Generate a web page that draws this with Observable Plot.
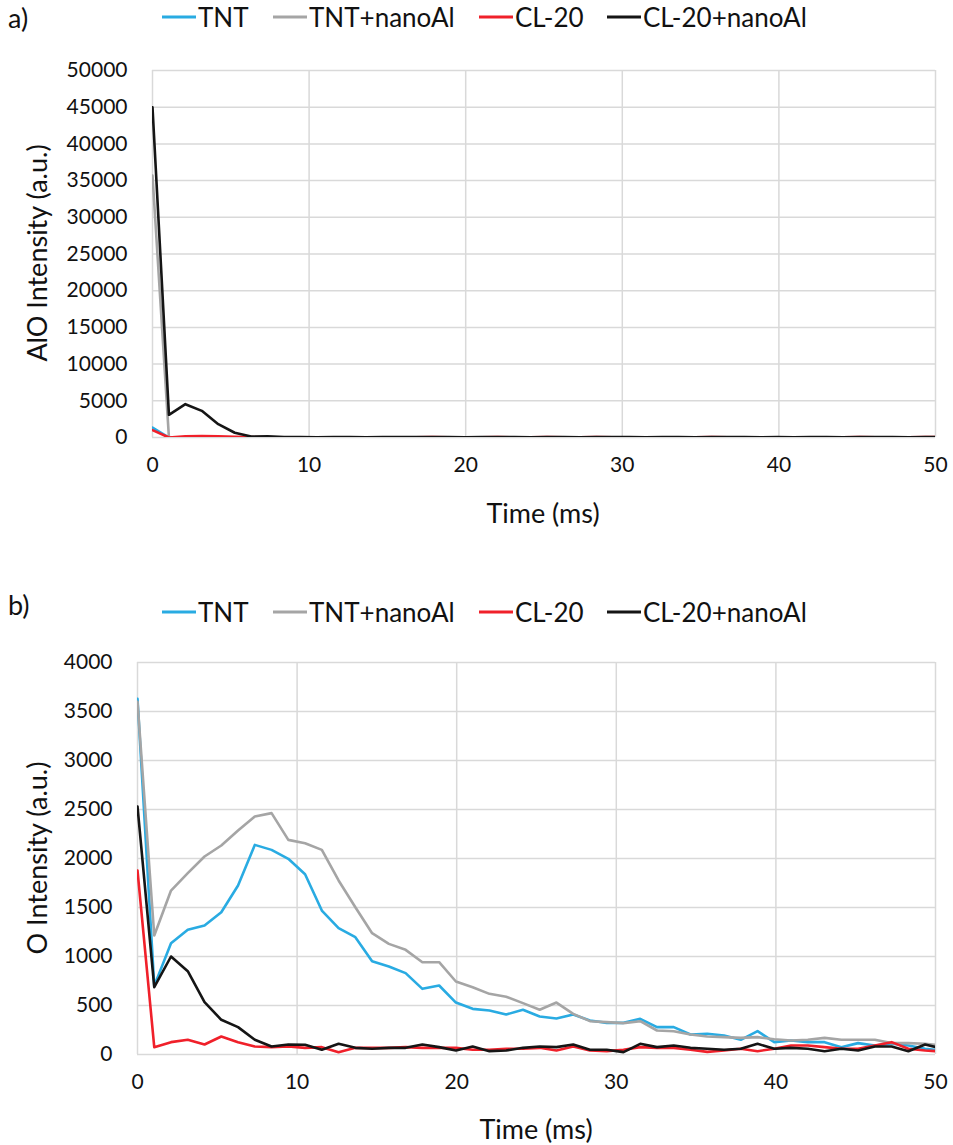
<!DOCTYPE html>
<html><head><meta charset="utf-8">
<script src="https://cdn.jsdelivr.net/npm/d3@7"></script>
<script src="https://cdn.jsdelivr.net/npm/@observablehq/plot@0.6"></script>
<style>
body{margin:0;background:#fff;}
#wrap{position:relative;width:953px;height:1145px;font-family:Lato,"Open Sans",sans-serif;color:#111;}
.tag{position:absolute;left:8px;font-size:27px;line-height:1;}
.leg{position:absolute;font-size:26px;line-height:1;display:flex;align-items:center;white-space:nowrap;}
.leg svg{display:block;margin-right:2px;}
.xt{position:absolute;font-size:27px;line-height:1;transform:translate(-50%,-50%);white-space:nowrap;}
.yt{position:absolute;font-size:27px;line-height:1;transform:translate(-50%,-50%) rotate(-90deg);white-space:nowrap;}
</style></head>
<body><div id="wrap"></div>
<script>
// ---------- data ----------
const seriesNames = ["TNT", "TNT+nanoAl", "CL-20", "CL-20+nanoAl"];
const seriesColors = ["#29ABE2", "#A5A5A5", "#F0202A", "#151515"];
const timeMs = [0,1.05,2.1,3.15,4.2,5.25,6.3,7.35,8.4,9.45,10.5,11.55,12.6,13.65,14.7,15.75,16.8,17.85,18.9,19.95,21,22.05,23.1,24.15,25.2,26.25,27.3,28.35,29.4,30.45,31.5,32.55,33.6,34.65,35.7,36.75,37.8,38.85,39.9,40.95,42,43.05,44.1,45.15,46.2,47.25,48.3,49.35,50.4];
const xTicks = [0, 10, 20, 30, 40, 50];
const yTicksA = [0,5000,10000,15000,20000,25000,30000,35000,40000,45000,50000];
const yTicksB = [0,500,1000,1500,2000,2500,3000,3500,4000];

// panel a) AlO intensity
const alo_TNT    = [1360,0,20,40,30,20,10,0,10,20,10,0,10,20,0,10,30,20,10,0,10,20,30,10,0,20,40,20,10,30,20,40,20,10,0,20,10,20,30,20,10,20,30,20,10,20,30,20,20];
const alo_TNTAl  = [35700,0,30,40,40,30,20,20,30,20,20,30,20,10,20,30,40,30,20,20,30,20,30,40,30,20,30,40,30,20,40,30,20,30,30,20,30,40,30,20,30,20,30,30,20,30,40,30,30];
const alo_CL20   = [1000,0,150,200,160,100,50,20,30,20,10,30,20,40,30,20,30,60,40,20,30,50,40,30,60,40,30,50,30,20,40,30,20,40,50,30,40,30,20,30,40,30,40,50,30,40,30,60,40];
const alo_CL20Al = [45000,3090,4540,3630,1820,650,140,150,60,50,40,60,50,40,50,60,50,70,50,40,50,60,50,40,50,60,40,50,60,50,40,60,50,40,50,60,50,40,50,40,60,50,40,50,60,50,40,60,50];

// panel b) O intensity
const o_TNT    = [3630,700,1136,1272,1316,1452,1724,2139,2088,1997,1840,1469,1290,1197,952,898,830,670,704,530,466,449,408,456,388,367,408,347,323,323,364,279,279,204,211,194,150,238,126,143,126,126,75,116,92,109,92,58,40];
const o_TNTAl  = [3600,1214,1673,1850,2020,2133,2286,2429,2463,2190,2156,2088,1776,1503,1238,1129,1068,942,942,745,687,619,590,524,456,530,415,340,330,320,340,245,238,204,184,177,170,177,156,143,150,170,150,150,150,116,116,109,90];
const o_CL20   = [1878,75,126,150,102,184,126,82,75,82,68,75,24,68,68,68,75,68,68,68,48,48,58,58,68,41,82,41,34,48,75,68,68,48,27,41,58,34,58,92,92,75,58,58,92,126,58,41,30];
const o_CL20Al = [2531,687,1000,850,534,354,279,150,82,102,100,48,109,68,58,68,68,102,75,41,82,34,41,68,82,75,102,48,48,24,109,75,92,68,58,48,58,109,58,68,58,34,58,41,82,82,34,102,60];

// ---------- helpers ----------
const FONT = 'Lato,"Open Sans",sans-serif';
function tidy(arrs){
  const rows = [];
  arrs.forEach((arr, k) => arr.forEach((v, i) => rows.push({t: timeMs[i], v, s: seriesNames[k]})));
  return rows;
}
const wrap = document.getElementById("wrap");
function addDiv(cls, text, styles){
  const d = document.createElement("div");
  d.className = cls; d.textContent = text;
  Object.assign(d.style, styles);
  wrap.appendChild(d);
  return d;
}
function legend(top){
  const starts = [162, 273, 479, 607];
  seriesNames.forEach((n, k) => {
    const d = document.createElement("div");
    d.className = "leg";
    d.style.left = starts[k] + "px";
    d.style.top = top + "px";
    d.innerHTML = `<svg width="34" height="6"><line x1="0" x2="34" y1="3" y2="3" stroke="${seriesColors[k]}" stroke-width="3"/></svg><span>${n}</span>`;
    wrap.appendChild(d);
  });
}
function chart({top, height, mt, mb, ml, yTicks, yMax, data, pad}){
  const svg = Plot.plot({
    width: 953, height, marginTop: mt, marginBottom: mb, marginLeft: ml, marginRight: 18,
    style: {fontFamily: FONT, fontSize: "21px", color: "#111", background: "white"},
    x: {domain: [0, 50]},
    y: {domain: [0, yMax]},
    color: {domain: seriesNames, range: seriesColors},
    marks: [
      Plot.gridX(xTicks, {stroke: "#d9d9d9", strokeOpacity: 1, strokeWidth: 1.5}),
      Plot.gridY(yTicks, {stroke: "#d9d9d9", strokeOpacity: 1, strokeWidth: 1.5}),
      Plot.axisX({ticks: xTicks, tickSize: 0, tickPadding: 20, label: null, tickFormat: d => String(d)}),
      Plot.axisY({ticks: yTicks, tickSize: 0, tickPadding: pad, label: null, tickFormat: d => String(d)}),
      Plot.line(data, {x: "t", y: "v", z: "s", stroke: "s", strokeWidth: 2.6, strokeLinejoin: "round", clip: true})
    ]
  });
  svg.style.position = "absolute";
  svg.style.left = "0px";
  svg.style.top = top + "px";
  wrap.appendChild(svg);
}

// ---------- panel a ----------
chart({top: 0, height: 560, mt: 70, mb: 123, ml: 152, yTicks: yTicksA, yMax: 50000, pad: 25,
  data: tidy([alo_TNT, alo_TNTAl, alo_CL20, alo_CL20Al])});
addDiv("tag", "a)", {top: "4px"});
legend(4);
addDiv("xt", "Time (ms)", {left: "543px", top: "512px"});
addDiv("yt", "AlO Intensity (a.u.)", {left: "36px", top: "253px"});

// ---------- panel b ----------
chart({top: 580, height: 565, mt: 82, mb: 91, ml: 137, yTicks: yTicksB, yMax: 4000, pad: 25,
  data: tidy([o_TNT, o_TNTAl, o_CL20, o_CL20Al])});
addDiv("tag", "b)", {top: "591px"});
legend(599);
addDiv("xt", "Time (ms)", {left: "536px", top: "1128px"});
addDiv("yt", "O Intensity (a.u.)", {left: "36px", top: "858px"});
</script>
</body></html>
